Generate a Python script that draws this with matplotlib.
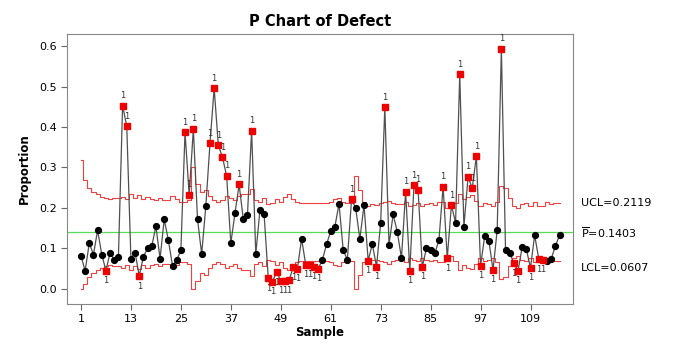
import numpy as np
import matplotlib.pyplot as plt

plt.rcParams['font.family'] = 'DejaVu Sans'

# proportion defective per sample
proportion = [
    0.082, 0.045, 0.113, 0.085, 0.145, 0.085, 0.045, 0.090, 0.072, 0.080,
    0.453, 0.402, 0.075, 0.090, 0.032, 0.080, 0.100, 0.105, 0.155, 0.075,
    0.172, 0.120, 0.057, 0.072, 0.095, 0.387, 0.232, 0.395, 0.172, 0.086,
    0.205, 0.360, 0.496, 0.355, 0.325, 0.279, 0.113, 0.187, 0.258, 0.172,
    0.183, 0.391, 0.086, 0.195, 0.184, 0.026, 0.018, 0.042, 0.020, 0.020,
    0.022, 0.054, 0.050, 0.124, 0.060, 0.060, 0.055, 0.050, 0.072, 0.110,
    0.143, 0.154, 0.210, 0.096, 0.072, 0.221, 0.200, 0.123, 0.207, 0.070,
    0.111, 0.055, 0.163, 0.449, 0.109, 0.184, 0.141, 0.076, 0.240, 0.045,
    0.256, 0.245, 0.055, 0.100, 0.095, 0.088, 0.120, 0.253, 0.076, 0.207,
    0.164, 0.530, 0.154, 0.277, 0.249, 0.328, 0.057, 0.131, 0.119, 0.047,
    0.146, 0.593, 0.096, 0.090, 0.063, 0.045, 0.103, 0.098, 0.052, 0.133,
    0.073, 0.072, 0.068, 0.075, 0.107, 0.133,
]

# upper control limit per sample (varies with sample size)
ucl = [
    0.318, 0.268, 0.250, 0.240, 0.235, 0.228, 0.225, 0.222, 0.225, 0.225,
    0.228, 0.222, 0.235, 0.225, 0.232, 0.222, 0.228, 0.222, 0.220, 0.225,
    0.220, 0.220, 0.230, 0.222, 0.215, 0.215, 0.220, 0.300, 0.260, 0.240,
    0.245, 0.230, 0.220, 0.215, 0.220, 0.230, 0.225, 0.220, 0.230, 0.235,
    0.235, 0.248, 0.220, 0.215, 0.225, 0.210, 0.212, 0.222, 0.215, 0.228,
    0.235, 0.222, 0.215, 0.212, 0.212, 0.212, 0.212, 0.212, 0.212, 0.212,
    0.215, 0.222, 0.225, 0.215, 0.212, 0.212, 0.280, 0.245, 0.215, 0.205,
    0.210, 0.208, 0.212, 0.215, 0.218, 0.212, 0.210, 0.210, 0.215, 0.205,
    0.208, 0.212, 0.205, 0.210, 0.212, 0.208, 0.215, 0.215, 0.200, 0.200,
    0.212, 0.235, 0.222, 0.228, 0.232, 0.218, 0.205, 0.212, 0.210, 0.205,
    0.215, 0.255, 0.250, 0.225, 0.205, 0.200, 0.210, 0.212, 0.205, 0.215,
    0.205, 0.205, 0.215, 0.210, 0.212, 0.212,
]

p_bar = 0.1403
limit_labels = ['UCL=0.2119', r'$\overline{\mathrm{P}}$=0.1403', 'LCL=0.0607']
xtick_values = [1, 13, 25, 37, 49, 61, 73, 85, 97, 109]

p = np.array(proportion)
upper = np.array(ucl)
lower = np.clip(2 * p_bar - upper, 0, None)  # p chart limits are symmetric about P-bar
samples = np.arange(1, len(p) + 1)
out_high = p > upper
out_low = p < lower
flagged = out_high | out_low

fig = plt.figure(figsize=(6.87, 3.53), dpi=100)
ax = fig.add_axes([0.0975, 0.139, 0.7365, 0.765])

ax.plot(samples, upper, drawstyle='steps-mid', color='#f04040', lw=0.8)
ax.plot(samples, lower, drawstyle='steps-mid', color='#f04040', lw=0.8)
ax.axhline(p_bar, color='#55dd55', lw=0.9)

ax.plot(samples, p, color='#505050', lw=0.9, zorder=3)
ax.plot(samples[~flagged], p[~flagged], 'o', color='black', ms=4.2, zorder=4)
ax.plot(samples[flagged], p[flagged], 's', color='#ee0000', ms=4.5, zorder=5)

# test 1 flags: "1" above points over UCL, below points under LCL
for x, y in zip(samples[out_high], p[out_high]):
    ax.annotate('1', (x, y), xytext=(0, 4), textcoords='offset points',
                ha='center', va='bottom', fontsize=6, color='#333333')
for x, y in zip(samples[out_low], p[out_low]):
    ax.annotate('1', (x, y), xytext=(0, -4), textcoords='offset points',
                ha='center', va='top', fontsize=6, color='#333333')

# limit labels to the right of the plot
trans = ax.get_yaxis_transform()
for label, yv in zip(limit_labels, [0.2119, 0.1403, 0.052]):
    ax.text(1.015, yv, label, transform=trans, ha='left', va='center',
            fontsize=8, clip_on=False)

ax.set_xlim(-2.36, 119.2)
ax.set_ylim(-0.037, 0.63)
ax.set_xticks(xtick_values)
ax.set_yticks(np.arange(0, 0.61, 0.1))
ax.set_yticklabels([f'{v:.1f}' for v in np.arange(0, 0.61, 0.1)])
ax.tick_params(labelsize=8, length=4, color='#666666')
for s in ax.spines.values():
    s.set_color('#888888')
    s.set_linewidth(0.8)

ax.set_xlabel('Sample', fontsize=8.5, fontweight='bold', labelpad=1)
ax.set_ylabel('Proportion', fontsize=8.5, fontweight='bold', labelpad=6)
ax.set_title('P Chart of Defect', fontsize=10.5, fontweight='bold', pad=6)

fig.savefig('out.png', dpi=100)
